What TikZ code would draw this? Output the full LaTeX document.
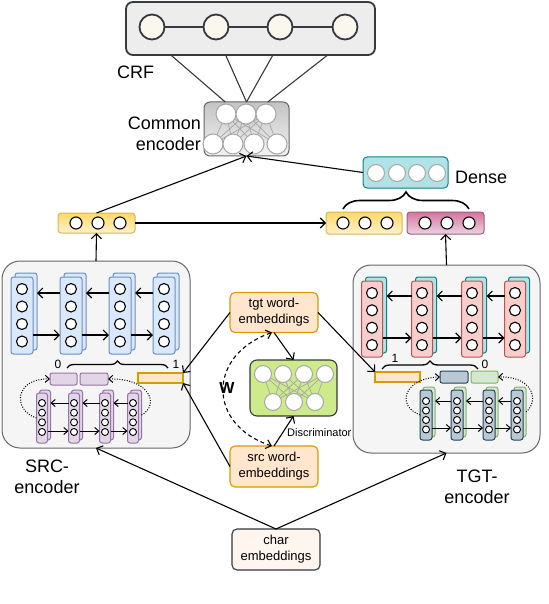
\documentclass[tikz,border=0pt]{standalone}
\usepackage{fontspec}
\setmainfont{Liberation Sans}
\usetikzlibrary{positioning,calc,arrows.meta,decorations.pathreplacing}

\definecolor{darkline}{HTML}{36393D}
\definecolor{encline}{HTML}{666666}
\definecolor{boxgray}{HTML}{F5F5F5}
\definecolor{crffill}{HTML}{EDEDED}
\definecolor{crfunit}{HTML}{F9F7EE}
\definecolor{unitgray}{HTML}{A6A6A6}
\definecolor{comtop}{HTML}{C4C4C4}
\definecolor{combot}{HTML}{F2F2F2}
\definecolor{yeltop}{HTML}{FFD966}
\definecolor{yelbot}{HTML}{FFF2CC}
\definecolor{yelline}{HTML}{D6B656}
\definecolor{pinktop}{HTML}{D5739D}
\definecolor{pinkbot}{HTML}{EBD3E0}
\definecolor{pinkline}{HTML}{996185}
\definecolor{tealfill}{HTML}{B0E3E6}
\definecolor{tealline}{HTML}{0E8088}
\definecolor{bluefill}{HTML}{DAE8FC}
\definecolor{blueline}{HTML}{6C8EBF}
\definecolor{redfill}{HTML}{F8CECC}
\definecolor{redline}{HTML}{B85450}
\definecolor{purpfill}{HTML}{E1D5E7}
\definecolor{purpline}{HTML}{9673A6}
\definecolor{greenfill}{HTML}{D5E8D4}
\definecolor{greenline}{HTML}{82B366}
\definecolor{slatefill}{HTML}{BAC8D3}
\definecolor{slateline}{HTML}{23445D}
\definecolor{orfill}{HTML}{FFE6CC}
\definecolor{orline}{HTML}{D79B00}
\definecolor{limefill}{HTML}{CDEB8B}
\definecolor{charfill}{HTML}{FDF5EE}

\tikzset{
  blk/.style 2 args={rectangle, minimum width=#1pt, minimum height=#2pt, inner sep=0pt, outer sep=0pt},
  colbox/.style 2 args={blk={#1}{#2}, rounded corners=2.5pt, line width=1pt},
  unit/.style={circle, draw=black, line width=1.1pt, fill=white, inner sep=0pt, outer sep=0pt, minimum size=#1},
  gunit/.style={unit=#1, draw=unitgray, line width=1pt},
  wire/.style={line width=1.1pt, draw=black},
  arr/.style={wire, -{Straight Barb[length=5pt,width=10pt]}},
  sarr/.style={line width=1pt, -{Straight Barb[length=4pt,width=7pt]}},
  loopback/.style={line width=1pt, dash pattern=on 1pt off 1.5pt, -{Straight Barb[length=4pt,width=7pt]}},
  wdash/.style={line width=1.1pt, dash pattern=on 4pt off 3pt, {Straight Barb[length=5pt,width=9pt]}-{Straight Barb[length=5pt,width=9pt]}},
  brc/.style={line width=#1, decorate},
  lbl/.style={font=\fontsize{18}{21}\selectfont, align=center, inner sep=0pt},
  txt/.style={font=\fontsize{13}{16}\selectfont, align=center, inner sep=0pt},
  embbox/.style={blk={88}{40}, draw=orline, fill=orfill, rounded corners=5pt, line width=1.1pt},
}

\begin{document}
\begin{tikzpicture}[x=1pt,y=-1pt]
\useasboundingbox (0,0) rectangle (548,604);

% CRF layer
\node[blk={249}{53}, draw=darkline, fill=crffill, line width=1.8pt, rounded corners=7pt] (crf) at (250.5,28.5) {};
\foreach \x [count=\i] in {152,216,280,345}
  \node[unit=25pt, fill=crfunit, draw=darkline, line width=1.8pt] (crf\i) at (\x,27) {};
\draw[line width=1.2pt, darkline] (crf1) -- (crf2) -- (crf3) -- (crf4);
\node[lbl, anchor=west] (crflbl) at (117,72) {CRF};

% common encoder
\node[blk={85}{54}, draw=encline, top color=comtop, bottom color=combot, line width=1pt, rounded corners=6pt] (com) at (246.5,129) {};
\foreach \x [count=\i] in {226,246,266}
  \node[gunit=20pt] (ct\i) at (\x,114) {};
\foreach \x [count=\i] in {213,233,254,277}
  \node[gunit=20pt] (cb\i) at (\x,144) {};
\foreach \i in {1,2,3}
  \foreach \j in {1,...,4}
    \draw[unitgray, line width=0.7pt] (ct\i) -- (cb\j);
\foreach \a/\b in {0.18/0.25,0.4/0.5,0.59/0.5,0.81/0.75}
  \draw[line width=1.1pt, darkline] ($(crf.south west)!\a!(crf.south east)$) -- ($(com.north west)!\b!(com.north east)$);
\node[lbl, align=right, anchor=east] (comlbl) at (201,133.5) {Common\\encoder};

% feature vectors
\node[blk={77}{20}, draw=yelline, top color=yeltop, bottom color=yelbot, rounded corners=3pt, line width=1pt] (fsrc) at (96.5,223) {};
\foreach \x [count=\i] in {76,98,120}
  \node[unit=12pt] (fs\i) at (\x,223) {};
\node[blk={76}{22}, draw=yelline, top color=yeltop, bottom color=yelbot, rounded corners=3pt, line width=1pt] (fmid) at (364,223) {};
\foreach \x [count=\i] in {343,365,387}
  \node[unit=12pt] (fm\i) at (\x,223) {};
\node[blk={77}{22}, draw=pinkline, top color=pinktop, bottom color=pinkbot, rounded corners=3pt, line width=1pt] (fpink) at (445.5,223) {};
\foreach \x [count=\i] in {425,447,469}
  \node[unit=12pt] (fp\i) at (\x,223) {};

% dense layer
\node[blk={85}{31}, draw=tealline, fill=tealfill, rounded corners=4pt, line width=1pt] (dense) at (405.5,172.5) {};
\foreach \x [count=\i] in {376,397,417,437}
  \node[gunit=17pt] (dn\i) at (\x,173) {};
\node[lbl, anchor=west] (denselbl) at (455,177) {Dense};
\draw[brc=1.6pt, decoration={brace, amplitude=17pt}] ([yshift=3pt]fmid.north -| fm1) -- ([yshift=3pt]fpink.north -| fp3);

\draw[arr] (fsrc.north) -- (com.south);
\draw[arr] (dense.west) -- (com.south);
\draw[arr] (fsrc.east) -- (fmid.west);

% SRC encoder
\node[blk={188}{187}, draw=encline, fill=boxgray, rounded corners=18pt, line width=1pt] (srcbox) at (96,354.5) {};
\foreach \x [count=\i] in {22,71,120,164} {
  \node[colbox={22}{77}, draw=blueline, fill=bluefill] (sback\i) at (\x+4,315.5-4) {};
  \node[colbox={22}{77}, draw=blueline, fill=bluefill] (scol\i) at (\x,315.5) {};
  \foreach \y [count=\j] in {289,306.5,324,341.5}
    \node[unit=11pt] (s\i-\j) at (\x,\y) {};
}
\foreach \i/\k in {1/2,2/3,3/4} {
  \draw[arr] (scol\k.west |- 0,293) -- (sback\i.east |- 0,293);
  \draw[arr] (scol\i.east |- 0,335) -- (scol\k.west |- 0,335);
}
\draw[brc=1.3pt, decoration={brace, amplitude=7pt}] (67,368) -- (168,368);
\node[font=\fontsize{12}{14}\selectfont, inner sep=0pt] (szero) at (58,364) {0};
\node[font=\fontsize{12}{14}\selectfont, inner sep=0pt] (sone) at (176,364) {1};
\node[blk={27}{12}, draw=purpline, fill=purpfill, rounded corners=2pt, line width=1pt] (sp1) at (63.5,379) {};
\node[blk={28}{12}, draw=purpline, fill=purpfill, rounded corners=2pt, line width=1pt] (sp2) at (94,379) {};
\node[blk={45}{10}, draw=orline, fill=orfill, line width=1.3pt] (so) at (160.5,378) {};
\foreach \x [count=\i] in {42,74,105,133} {
  \node[colbox={11}{50}, draw=purpline, fill=purpfill] (pback\i) at (\x+3,418-3) {};
  \node[colbox={11}{50}, draw=purpline, fill=purpfill] (pcol\i) at (\x,418) {};
  \foreach \y [count=\j] in {403,412.7,422.3,432}
    \node[unit=7pt, line width=0.9pt] (p\i-\j) at (\x,\y) {};
}
\foreach \i/\k in {1/2,2/3,3/4} {
  \draw[sarr] (pcol\k.west |- 0,403) -- (pback\i.east |- 0,403);
  \draw[sarr] (pcol\i.east |- 0,431) -- (pcol\k.west |- 0,431);
}
\draw[loopback] (pcol1.west) .. controls (12,410) and (15,378) .. (sp1.west);
\draw[loopback] (pback4.east) .. controls (160,405) and (150,378) .. (sp2.east);
\node[lbl] (srclbl) at (47,476.5) {SRC-\\encoder};
\draw[arr] (srcbox.north) -- (fsrc.south);

% TGT encoder
\node[blk={187}{188}, draw=encline, fill=boxgray, rounded corners=18pt, line width=1pt] (tgtbox) at (446.5,359) {};
\foreach \x [count=\i] in {372,422,472,515} {
  \node[colbox={21}{76}, draw=tealline, fill=tealfill] (tback\i) at (\x+4,319-4) {};
  \node[colbox={21}{76}, draw=redline, fill=redfill] (tcol\i) at (\x,319) {};
  \foreach \y [count=\j] in {293,310.3,327.7,345}
    \node[unit=11pt] (t\i-\j) at (\x,\y) {};
}
\foreach \i/\k in {1/2,2/3,3/4} {
  \draw[arr] (tcol\k.west |- 0,296) -- (tback\i.east |- 0,296);
  \draw[arr] (tcol\i.east |- 0,338) -- (tcol\k.west |- 0,338);
}
\draw[brc=1.3pt, decoration={brace, amplitude=8pt}] (382,369) -- (478,369);
\node[font=\fontsize{12}{14}\selectfont, inner sep=0pt] (tone) at (395,358) {1};
\node[font=\fontsize{12}{14}\selectfont, inner sep=0pt] (tzero) at (485,364) {0};
\node[blk={45}{10}, draw=orline, fill=orfill, line width=1.3pt] (to) at (397.5,377) {};
\node[blk={28}{12}, draw=slateline, fill=slatefill, rounded corners=2pt, line width=1pt] (tb1) at (454,377) {};
\node[blk={27}{12}, draw=greenline, fill=greenfill, rounded corners=2pt, line width=1pt] (tb2) at (484.5,377) {};
\foreach \x [count=\i] in {426,457,489,517} {
  \node[colbox={12}{50}, draw=greenline, fill=greenfill] (gback\i) at (\x+3,415-3) {};
  \node[colbox={12}{50}, draw=slateline, fill=slatefill] (gcol\i) at (\x,415) {};
  \foreach \y [count=\j] in {401,410.5,420,429.5}
    \node[unit=7pt, line width=0.9pt] (g\i-\j) at (\x,\y) {};
}
\foreach \i/\k in {1/2,2/3,3/4} {
  \draw[sarr] (gcol\k.west |- 0,401) -- (gback\i.east |- 0,401);
  \draw[sarr] (gcol\i.east |- 0,428) -- (gcol\k.west |- 0,428);
}
\draw[loopback] (gcol1.west) .. controls (395,405) and (405,378) .. (tb1.west);
\draw[loopback] (gback4.east) .. controls (540,400) and (532,376) .. (tb2.east);
\node[lbl] (tgtlbl) at (477,487) {TGT-\\encoder};
\draw[arr] (tgtbox.north) -- (fpink.south);

% word embeddings and discriminator
\node[embbox] (tgtw) at (274,312.5) {};
\node[txt] at (tgtw) {tgt word-\\embeddings};
\node[embbox, minimum height=41pt] (srcw) at (274,466.5) {};
\node[txt] at (srcw) {src word-\\embeddings};
\node[blk={87}{56}, draw=darkline, fill=limefill, rounded corners=7pt, line width=1.1pt] (disc) at (293.5,388) {};
\foreach \x [count=\i] in {263,283,304,325}
  \node[gunit=17pt] (dt\i) at (\x,374) {};
\foreach \x [count=\i] in {273,294,315}
  \node[gunit=17pt] (db\i) at (\x,402) {};
\foreach \i in {1,...,4}
  \foreach \j in {1,2,3}
    \draw[unitgray, line width=0.7pt] (dt\i) -- (db\j);
\node[font=\fontsize{11}{13}\selectfont, anchor=west, inner sep=0pt] (disclbl) at (287,433) {Discriminator};
\draw[arr] (tgtw.south) -- (disc.north);
\draw[arr] (srcw.north) -- (disc.south);
\draw[wdash] ([xshift=-2pt]srcw.north) .. controls (207,425) and (207,355) .. ([xshift=-2pt]tgtw.south);
\node[font=\bfseries\fontsize{16}{18}\selectfont, inner sep=0pt] (wlbl) at (227,388) {W};

\draw[arr] (tgtw.west) -- (so.north east);
\draw[arr] (srcw.west) -- (so.south east);
\draw[arr] (tgtw.east) -- (to.north west);

% char embeddings
\node[blk={88}{41}, draw=darkline, fill=charfill, rounded corners=5pt, line width=1.1pt] (chr) at (276,549.5) {};
\node[txt] at (chr) {char\\embeddings};
\draw[arr] (chr.north) -- (srcbox.south);
\draw[arr] (chr.north) -- (tgtbox.south);
\end{tikzpicture}
\end{document}
